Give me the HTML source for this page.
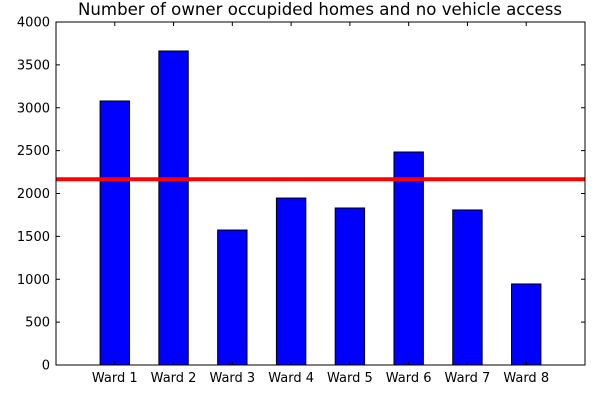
<!DOCTYPE html>
<html><head><meta charset="utf-8"><style>
body{margin:0;background:#fff;}
svg{display:block;font-family:"DejaVu Sans","Liberation Sans",sans-serif;}
</style></head><body>
<svg id="chart" width="600" height="400"></svg>
<script>
const categories=["Ward 1","Ward 2","Ward 3","Ward 4","Ward 5","Ward 6","Ward 7","Ward 8"];
const values=[3079,3662,1574,1947,1831,2484,1808,945];
const yTicks=[0,500,1000,1500,2000,2500,3000,3500,4000];
const meanValue=values.reduce((a,b)=>a+b,0)/values.length;
const NS="http://www.w3.org/2000/svg";
const svg=document.getElementById('chart');
const L=56,R=585,T=22,B=365;
const xs=i=>L+(i+1)/9*(R-L);
const ys=v=>B-v/4000*(B-T);
function mk(tag,attrs,parent){const e=document.createElementNS(NS,tag);for(const k in attrs)e.setAttribute(k,attrs[k]);(parent||svg).appendChild(e);return e;}
const title=mk('text',{x:320,y:15,'text-anchor':'middle','font-size':16.6});
title.textContent="Number of owner occupided homes and no vehicle access";


const bw=0.5/9*(R-L);
values.forEach((v,i)=>{
  const r=mk('rect',{x:xs(i)-bw/2,y:ys(v),width:bw,height:B-ys(v),fill:'#0000ff',stroke:'#000','stroke-width':1});
  
  
});
const ml=mk('line',{x1:L,x2:R,y1:ys(meanValue),y2:ys(meanValue),stroke:'#ff0000','stroke-width':4});


const frame=mk('rect',{x:L,y:T,width:R-L,height:B-T,fill:'none',stroke:'#000','stroke-width':1});


yTicks.forEach(t=>{
  const y=ys(t);
  mk('line',{x1:L,x2:L+4,y1:y,y2:y,stroke:'#000'});
  mk('line',{x1:R-4,x2:R,y1:y,y2:y,stroke:'#000'});
  const tx=mk('text',{x:L-6,y:y+4.5,'text-anchor':'end','font-size':13});
  tx.textContent=t;
  
  
});
categories.forEach((c,i)=>{
  const x=xs(i);
  mk('line',{x1:x,x2:x,y1:B,y2:B-4,stroke:'#000'});
  mk('line',{x1:x,x2:x,y1:T,y2:T+4,stroke:'#000'});
  const tx=mk('text',{x:x,y:B+17,'text-anchor':'middle','font-size':13});
  tx.textContent=c;
  
  
});
</script>
</body></html>
